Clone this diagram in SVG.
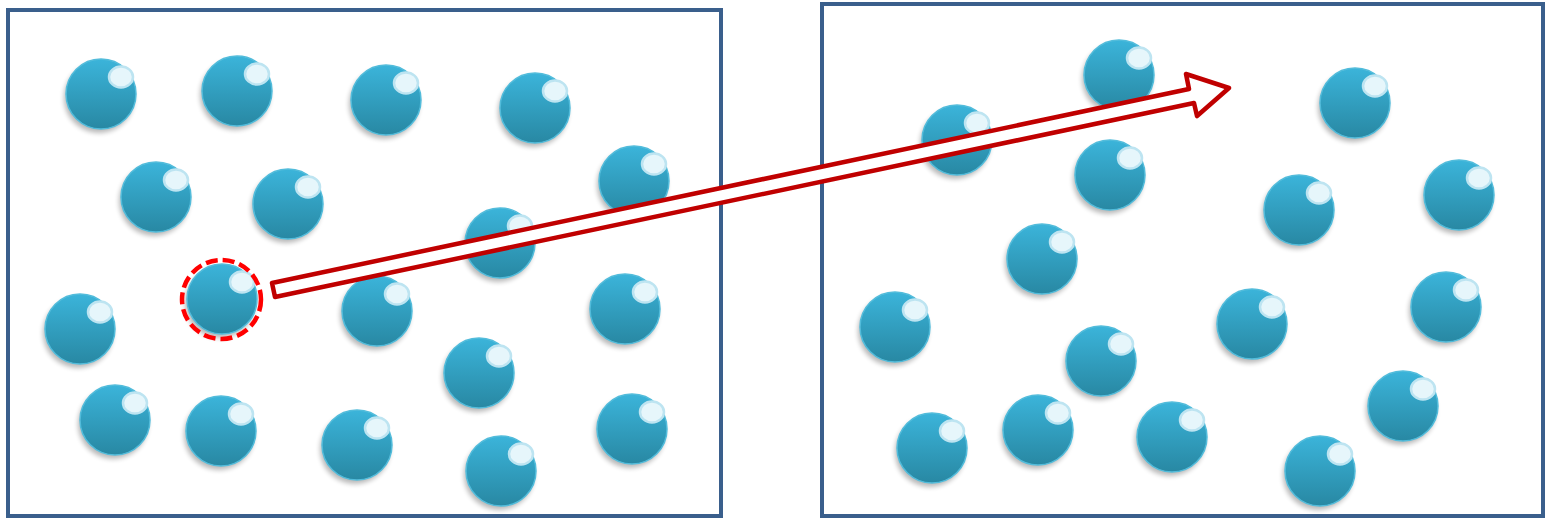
<svg xmlns="http://www.w3.org/2000/svg" width="1545" height="518" viewBox="0 0 1545 518">
<defs>
<linearGradient id="bg" x1="0" y1="0" x2="0" y2="1">
<stop offset="0" stop-color="#3bb4da"/>
<stop offset="1" stop-color="#2888a3"/>
</linearGradient>
<filter id="sh" x="-50%" y="-50%" width="200%" height="200%">
<feGaussianBlur stdDeviation="2.5"/>
</filter>
<g id="ball">
<circle cx="-2" cy="4" r="35" fill="#000" opacity="0.28" filter="url(#sh)"/>
<circle r="35" fill="url(#bg)" stroke="#52bcdb" stroke-width="1.5"/>
<ellipse cx="20" cy="-17" rx="12" ry="10.5" fill="#e6f6fb" stroke="#bde4f1" stroke-width="2.5"/>
</g>
</defs>
<style>
.box{fill:#fff;stroke:#3a5f8c;stroke-width:4}
.arrow{fill:#fff;stroke:#c00000;stroke-width:4.5;stroke-linejoin:round}
.sel{fill:none;stroke:#ff0000;stroke-width:4.5;stroke-dasharray:12 5}
</style>
<rect width="1545" height="518" fill="#fff"/>
<g id="box-left"><rect class="box" x="8" y="10" width="713" height="506"/></g>
<g id="box-right"><rect class="box" x="822" y="4" width="721" height="512"/></g>
<g id="balls-left">
<g id="L1"><use href="#ball" x="101" y="94"/></g>
<g id="L2"><use href="#ball" x="237" y="91"/></g>
<g id="L3"><use href="#ball" x="386" y="100"/></g>
<g id="L4"><use href="#ball" x="535" y="108"/></g>
<g id="L5"><use href="#ball" x="156" y="197"/></g>
<g id="L6"><use href="#ball" x="288" y="204"/></g>
<g id="L7"><use href="#ball" x="634" y="181"/></g>
<g id="L8"><use href="#ball" x="500" y="243"/></g>
<g id="L9"><use href="#ball" x="222" y="299"/></g>
<g id="L10"><use href="#ball" x="80" y="329"/></g>
<g id="L11"><use href="#ball" x="377" y="311"/></g>
<g id="L12"><use href="#ball" x="625" y="309"/></g>
<g id="L13"><use href="#ball" x="479" y="373"/></g>
<g id="L14"><use href="#ball" x="115" y="420"/></g>
<g id="L15"><use href="#ball" x="221" y="431"/></g>
<g id="L16"><use href="#ball" x="357" y="445"/></g>
<g id="L17"><use href="#ball" x="632" y="429"/></g>
<g id="L18"><use href="#ball" x="501" y="471"/></g>
</g>
<g id="balls-right">
<g id="R1"><use href="#ball" x="1119" y="75"/></g>
<g id="R2"><use href="#ball" x="1355" y="103"/></g>
<g id="R3"><use href="#ball" x="957" y="140"/></g>
<g id="R4"><use href="#ball" x="1110" y="175"/></g>
<g id="R5"><use href="#ball" x="1299" y="210"/></g>
<g id="R6"><use href="#ball" x="1459" y="195"/></g>
<g id="R7"><use href="#ball" x="1042" y="259"/></g>
<g id="R8"><use href="#ball" x="895" y="327"/></g>
<g id="R9"><use href="#ball" x="1252" y="324"/></g>
<g id="R10"><use href="#ball" x="1446" y="307"/></g>
<g id="R11"><use href="#ball" x="1101" y="361"/></g>
<g id="R12"><use href="#ball" x="1403" y="406"/></g>
<g id="R13"><use href="#ball" x="932" y="448"/></g>
<g id="R14"><use href="#ball" x="1038" y="430"/></g>
<g id="R15"><use href="#ball" x="1172" y="437"/></g>
<g id="R16"><use href="#ball" x="1320" y="471"/></g>
</g>
<g id="selection"><circle class="sel" cx="221.5" cy="299.5" r="39.5"/></g>
<g id="connectors">
<polygon class="arrow" points="272,283 1189,89 1186,74 1229,88 1197,116 1194,103 275,297"/>
</g>
</svg>
